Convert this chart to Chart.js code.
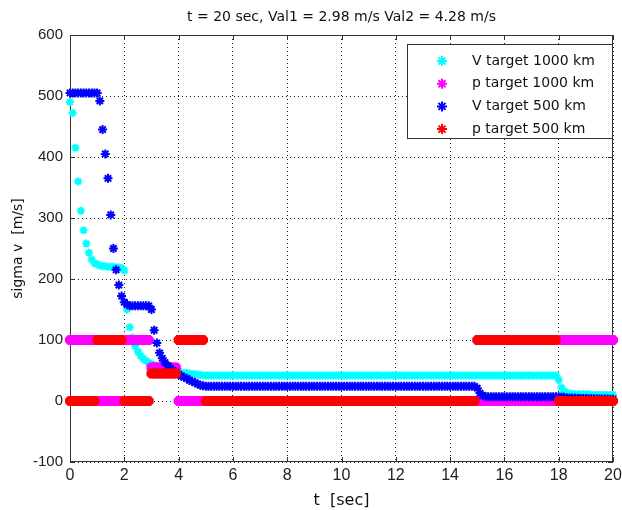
<!DOCTYPE html>
<html>
<head>
<meta charset="utf-8">
<script src="https://cdn.jsdelivr.net/npm/chart.js@4/dist/chart.umd.min.js"></script>
<style>
  html, body { margin: 0; padding: 0; background: #fff; }
  canvas { display: block; }
</style>
</head>
<body>
<canvas id="sigmaChart" width="622" height="510"></canvas>
<script>
// sample times [sec]
var t = [
  0, 0.1, 0.2, 0.3, 0.4, 0.5, 0.6, 0.7, 0.8, 0.9,
  1, 1.1, 1.2, 1.3, 1.4, 1.5, 1.6, 1.7, 1.8, 1.9,
  2, 2.1, 2.2, 2.3, 2.4, 2.5, 2.6, 2.7, 2.8, 2.9,
  3, 3.1, 3.2, 3.3, 3.4, 3.5, 3.6, 3.7, 3.8, 3.9,
  4, 4.1, 4.2, 4.3, 4.4, 4.5, 4.6, 4.7, 4.8, 4.9,
  5, 5.1, 5.2, 5.3, 5.4, 5.5, 5.6, 5.7, 5.8, 5.9,
  6, 6.1, 6.2, 6.3, 6.4, 6.5, 6.6, 6.7, 6.8, 6.9,
  7, 7.1, 7.2, 7.3, 7.4, 7.5, 7.6, 7.7, 7.8, 7.9,
  8, 8.1, 8.2, 8.3, 8.4, 8.5, 8.6, 8.7, 8.8, 8.9,
  9, 9.1, 9.2, 9.3, 9.4, 9.5, 9.6, 9.7, 9.8, 9.9,
  10, 10.1, 10.2, 10.3, 10.4, 10.5, 10.6, 10.7, 10.8, 10.9,
  11, 11.1, 11.2, 11.3, 11.4, 11.5, 11.6, 11.7, 11.8, 11.9,
  12, 12.1, 12.2, 12.3, 12.4, 12.5, 12.6, 12.7, 12.8, 12.9,
  13, 13.1, 13.2, 13.3, 13.4, 13.5, 13.6, 13.7, 13.8, 13.9,
  14, 14.1, 14.2, 14.3, 14.4, 14.5, 14.6, 14.7, 14.8, 14.9,
  15, 15.1, 15.2, 15.3, 15.4, 15.5, 15.6, 15.7, 15.8, 15.9,
  16, 16.1, 16.2, 16.3, 16.4, 16.5, 16.6, 16.7, 16.8, 16.9,
  17, 17.1, 17.2, 17.3, 17.4, 17.5, 17.6, 17.7, 17.8, 17.9,
  18, 18.1, 18.2, 18.3, 18.4, 18.5, 18.6, 18.7, 18.8, 18.9,
  19, 19.1, 19.2, 19.3, 19.4, 19.5, 19.6, 19.7, 19.8, 19.9,
  20
];

// V target 1000 km (cyan)
var vTarget1000 = [
  490, 472, 415, 360, 312, 280, 258, 243, 232, 226,
  224, 222, 221, 221, 220, 220, 220, 219, 219, 218,
  214, 150, 121, 104, 90, 81, 74, 69, 66, 63,
  61, 59, 57, 56, 54, 53, 52, 51, 50, 49,
  48, 47, 46, 46, 45, 44, 44, 43, 43, 42,
  42, 42, 42, 42, 42, 42, 42, 42, 42, 42,
  42, 42, 42, 42, 42, 42, 42, 42, 42, 42,
  42, 42, 42, 42, 42, 42, 42, 42, 42, 42,
  42, 42, 42, 42, 42, 42, 42, 42, 42, 42,
  42, 42, 42, 42, 42, 42, 42, 42, 42, 42,
  42, 42, 42, 42, 42, 42, 42, 42, 42, 42,
  42, 42, 42, 42, 42, 42, 42, 42, 42, 42,
  42, 42, 42, 42, 42, 42, 42, 42, 42, 42,
  42, 42, 42, 42, 42, 42, 42, 42, 42, 42,
  42, 42, 42, 42, 42, 42, 42, 42, 42, 42,
  42, 42, 42, 42, 42, 42, 42, 42, 42, 42,
  42, 42, 42, 42, 42, 42, 42, 42, 42, 42,
  42, 42, 42, 42, 42, 42, 42, 42, 42, 42,
  35, 22, 16, 13, 12, 12, 11, 11, 11, 11,
  11, 11, 10, 10, 10, 10, 10, 10, 10, 10,
  10
];

// p target 1000 km (magenta)
var pTarget1000 = [
  100, 100, 100, 100, 100, 100, 100, 100, 100, 100,
  0, 0, 0, 0, 0, 0, 0, 0, 0, 0,
  100, 100, 100, 100, 100, 100, 100, 100, 100, 100,
  55, 55, 55, 55, 55, 55, 55, 55, 55, 55,
  0, 0, 0, 0, 0, 0, 0, 0, 0, 0,
  0, 0, 0, 0, 0, 0, 0, 0, 0, 0,
  0, 0, 0, 0, 0, 0, 0, 0, 0, 0,
  0, 0, 0, 0, 0, 0, 0, 0, 0, 0,
  0, 0, 0, 0, 0, 0, 0, 0, 0, 0,
  0, 0, 0, 0, 0, 0, 0, 0, 0, 0,
  0, 0, 0, 0, 0, 0, 0, 0, 0, 0,
  0, 0, 0, 0, 0, 0, 0, 0, 0, 0,
  0, 0, 0, 0, 0, 0, 0, 0, 0, 0,
  0, 0, 0, 0, 0, 0, 0, 0, 0, 0,
  0, 0, 0, 0, 0, 0, 0, 0, 0, 0,
  0, 0, 0, 0, 0, 0, 0, 0, 0, 0,
  0, 0, 0, 0, 0, 0, 0, 0, 0, 0,
  0, 0, 0, 0, 0, 0, 0, 0, 0, 0,
  100, 100, 100, 100, 100, 100, 100, 100, 100, 100,
  100, 100, 100, 100, 100, 100, 100, 100, 100, 100,
  100
];

// V target 500 km (blue)
var vTarget500 = [
  505, 505, 505, 505, 505, 505, 505, 505, 505, 505,
  505, 492, 445, 405, 365, 305, 250, 215, 190, 172,
  162, 158, 156, 156, 156, 156, 156, 156, 156, 156,
  150, 116, 95, 79, 70, 63, 58, 54, 50, 47,
  44, 41, 39, 37, 34, 32, 30, 28, 26, 25,
  24, 24, 24, 24, 24, 24, 24, 24, 24, 24,
  24, 24, 24, 24, 24, 24, 24, 24, 24, 24,
  24, 24, 24, 24, 24, 24, 24, 24, 24, 24,
  24, 24, 24, 24, 24, 24, 24, 24, 24, 24,
  24, 24, 24, 24, 24, 24, 24, 24, 24, 24,
  24, 24, 24, 24, 24, 24, 24, 24, 24, 24,
  24, 24, 24, 24, 24, 24, 24, 24, 24, 24,
  24, 24, 24, 24, 24, 24, 24, 24, 24, 24,
  24, 24, 24, 24, 24, 24, 24, 24, 24, 24,
  24, 24, 24, 24, 24, 24, 24, 24, 24, 24,
  21, 13, 9, 7.5, 7, 7, 7, 7, 7, 7,
  7, 7, 7, 7, 7, 7, 7, 7, 7, 7,
  7, 7, 7, 7, 7, 7, 7, 7, 7, 7,
  7, 6.5, 6, 5.5, 5, 4.8, 4.6, 4.4, 4.2, 4,
  3.9, 3.8, 3.7, 3.6, 3.5, 3.4, 3.3, 3.2, 3.1, 3,
  2.98
];

// p target 500 km (red)
var pTarget500 = [
  0, 0, 0, 0, 0, 0, 0, 0, 0, 0,
  100, 100, 100, 100, 100, 100, 100, 100, 100, 100,
  0, 0, 0, 0, 0, 0, 0, 0, 0, 0,
  45, 45, 45, 45, 45, 45, 45, 45, 45, 45,
  100, 100, 100, 100, 100, 100, 100, 100, 100, 100,
  0, 0, 0, 0, 0, 0, 0, 0, 0, 0,
  0, 0, 0, 0, 0, 0, 0, 0, 0, 0,
  0, 0, 0, 0, 0, 0, 0, 0, 0, 0,
  0, 0, 0, 0, 0, 0, 0, 0, 0, 0,
  0, 0, 0, 0, 0, 0, 0, 0, 0, 0,
  0, 0, 0, 0, 0, 0, 0, 0, 0, 0,
  0, 0, 0, 0, 0, 0, 0, 0, 0, 0,
  0, 0, 0, 0, 0, 0, 0, 0, 0, 0,
  0, 0, 0, 0, 0, 0, 0, 0, 0, 0,
  0, 0, 0, 0, 0, 0, 0, 0, 0, 0,
  100, 100, 100, 100, 100, 100, 100, 100, 100, 100,
  100, 100, 100, 100, 100, 100, 100, 100, 100, 100,
  100, 100, 100, 100, 100, 100, 100, 100, 100, 100,
  0, 0, 0, 0, 0, 0, 0, 0, 0, 0,
  0, 0, 0, 0, 0, 0, 0, 0, 0, 0,
  0
];

var yTicks = [-100, 0, 100, 200, 300, 400, 500, 600];
var xTicks = [0, 2, 4, 6, 8, 10, 12, 14, 16, 18, 20];

function drawStar(ctx, x, y, r) {
  var d = r * 0.7;
  ctx.beginPath();
  ctx.moveTo(x - r, y); ctx.lineTo(x + r, y);
  ctx.moveTo(x, y - r); ctx.lineTo(x, y + r);
  ctx.moveTo(x - d, y - d); ctx.lineTo(x + d, y + d);
  ctx.moveTo(x - d, y + d); ctx.lineTo(x + d, y - d);
  ctx.stroke();
}

// matlab style box, inward ticks and the legend inside the axes
var boxPlugin = {
  id: 'box',
  beforeDatasetsDraw: function (chart) {
    var ctx = chart.ctx, a = chart.chartArea;
    var xs = chart.scales.x, ys = chart.scales.y;
    ctx.save();
    ctx.strokeStyle = '#333';
    ctx.lineWidth = 1;
    ctx.setLineDash([]);
    ctx.strokeRect(a.left + 0.5, a.top + 0.5, a.right - a.left - 1, a.bottom - a.top - 1);
    ctx.beginPath();
    xTicks.forEach(function (v) {
      var px = Math.round(xs.getPixelForValue(v)) + 0.5;
      ctx.moveTo(px, a.bottom); ctx.lineTo(px, a.bottom - 5);
      ctx.moveTo(px, a.top); ctx.lineTo(px, a.top + 5);
    });
    yTicks.forEach(function (v) {
      var py = Math.round(ys.getPixelForValue(v)) + 0.5;
      ctx.moveTo(a.left, py); ctx.lineTo(a.left + 5, py);
      ctx.moveTo(a.right, py); ctx.lineTo(a.right - 5, py);
    });
    ctx.stroke();
    ctx.restore();
  },
  afterDraw: function (chart) {
    var ctx = chart.ctx, a = chart.chartArea;
    var bx = a.right - 206, by = a.top + 9, bw = 205, bh = 94;
    ctx.save();
    ctx.fillStyle = '#fff';
    ctx.fillRect(bx, by, bw, bh);
    ctx.strokeStyle = '#333';
    ctx.lineWidth = 1;
    ctx.strokeRect(bx + 0.5, by + 0.5, bw, bh);
    ctx.font = '14px "DejaVu Sans"';
    ctx.textBaseline = 'middle';
    chart.data.datasets.forEach(function (ds, i) {
      var y = by + 17 + i * 22.7;
      ctx.strokeStyle = ds.borderColor;
      ctx.lineWidth = ds.legendWidth;
      drawStar(ctx, bx + 35, y, 5);
      ctx.fillStyle = '#111';
      ctx.fillText(ds.label, bx + 65, y);
    });
    ctx.restore();
  }
};

var cntxt = document.getElementById('sigmaChart');

var myChart = new Chart(cntxt, {
  type: 'line',
  data: {
    labels: t,
    datasets: [
      {
        label: 'V target 1000 km',
        data: vTarget1000,
        borderColor: '#00ffff',
        backgroundColor: '#00ffff',
        pointStyle: 'star',
        pointRadius: 4,
        pointBorderWidth: 2,
        legendWidth: 2,
        order: 3
      },
      {
        label: 'p target 1000 km',
        data: pTarget1000,
        borderColor: '#ff00ff',
        backgroundColor: '#ff00ff',
        pointStyle: 'star',
        pointRadius: 5,
        pointBorderWidth: 4,
        legendWidth: 2,
        order: 2
      },
      {
        label: 'V target 500 km',
        data: vTarget500,
        borderColor: '#0000ff',
        backgroundColor: '#0000ff',
        pointStyle: 'star',
        pointRadius: 4.5,
        pointBorderWidth: 2,
        legendWidth: 2,
        order: 1
      },
      {
        label: 'p target 500 km',
        data: pTarget500,
        borderColor: '#ff0000',
        backgroundColor: '#ff0000',
        pointStyle: 'star',
        pointRadius: 5,
        pointBorderWidth: 4,
        legendWidth: 2,
        order: 0
      }
    ]
  },
  options: {
    responsive: false,
    animation: false,
    devicePixelRatio: 1,
    events: [],
    layout: { padding: { left: 0, right: 8, top: 0, bottom: 0 } },
    datasets: { line: { showLine: false, clip: false } },
    scales: {
      x: {
        type: 'linear',
        min: 0,
        max: 20,
        afterFit: function (scale) {
          scale.height = 48;
          scale.paddingLeft = 0;
          scale.paddingRight = 0;
        },
        afterBuildTicks: function (scale) {
          scale.ticks = xTicks.map(function (v) { return { value: v }; });
        },
        ticks: {
          padding: 4,
          maxRotation: 0,
          font: { family: 'Liberation Sans', size: 16 },
          color: '#222'
        },
        grid: { color: '#222', lineWidth: 1, drawTicks: false },
        border: { display: false, dash: [1, 3] },
        title: {
          display: true,
          text: 't  [sec]',
          font: { family: 'DejaVu Sans', size: 16 },
          color: '#111',
          padding: { top: 8, bottom: 0 }
        }
      },
      y: {
        type: 'linear',
        min: -100,
        max: 600,
        afterFit: function (scale) { scale.width = 70; },
        afterBuildTicks: function (scale) {
          scale.ticks = yTicks.map(function (v) { return { value: v }; });
        },
        ticks: {
          padding: 7,
          font: { family: 'Liberation Sans', size: 15 },
          color: '#222'
        },
        grid: { color: '#222', lineWidth: 1, drawTicks: false },
        border: { display: false, dash: [1, 3] },
        title: {
          display: true,
          text: 'sigma v  [m/s]',
          font: { family: 'DejaVu Sans', size: 14 },
          color: '#111',
          padding: { top: 10, bottom: 0 }
        }
      }
    },
    plugins: {
      legend: { display: false },
      tooltip: { enabled: false },
      title: {
        display: true,
        fullSize: false,
        text: 't = 20 sec, Val1 = 2.98 m/s Val2 = 4.28 m/s',
        font: { family: 'DejaVu Sans', size: 14, weight: 'normal' },
        color: '#111',
        padding: { top: 9, bottom: 9.2 }
      }
    }
  },
  plugins: [boxPlugin]
});
</script>
</body>
</html>
